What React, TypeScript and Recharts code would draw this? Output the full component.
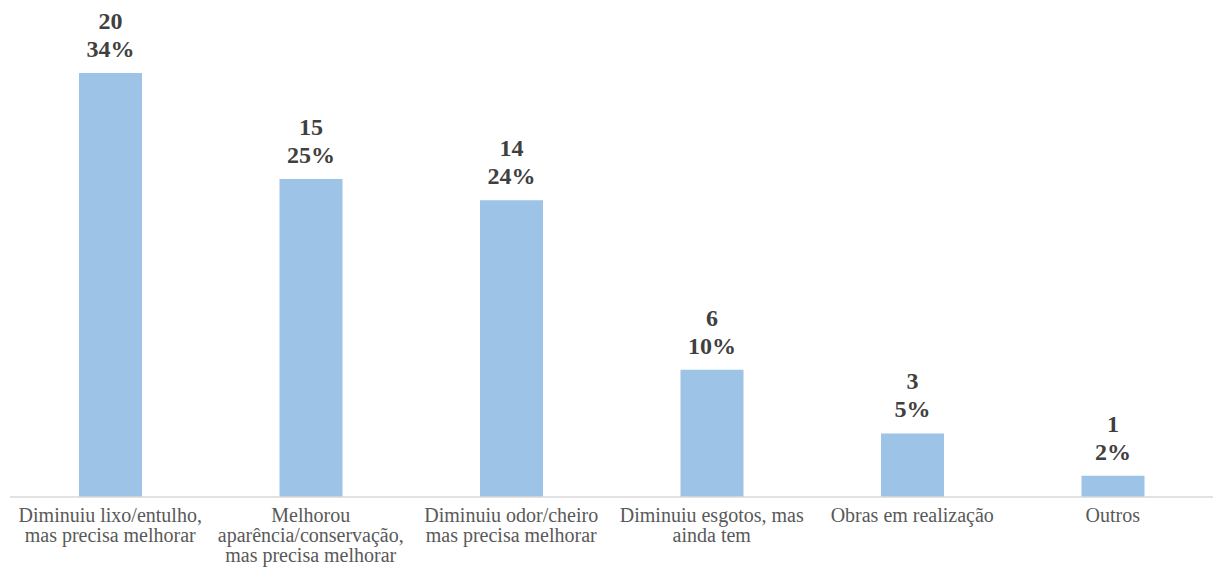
import React from 'react';
import { BarChart, Bar, XAxis, YAxis, LabelList } from 'recharts';

// Categories (line breaks as in the original labels)
const categories = [
    'Diminuiu lixo/entulho,\nmas precisa melhorar',
    'Melhorou\naparência/conservação,\nmas precisa melhorar',
    'Diminuiu odor/cheiro\nmas precisa melhorar',
    'Diminuiu esgotos, mas\nainda tem',
    'Obras em realização',
    'Outros'
];

const counts = [20, 15, 14, 6, 3, 1];
const percents = ['34%', '25%', '24%', '10%', '5%', '2%'];

const data = categories.map((name, i) => ({ name, value: counts[i], pct: percents[i] }));

const FONT = "'Liberation Serif', 'DejaVu Serif', serif";

const CategoryTick = (props: any) => {
    const { x, y, payload } = props;
    const lines = String(payload.value).split('\n');
    return (
        <text x={x} y={y} textAnchor="middle" fill="#595959" style={{ fontFamily: FONT, fontSize: 20 }}>
            {lines.map((line, i) => (
                <tspan key={i} x={x} dy={i === 0 ? 19 : 20}>{line}</tspan>
            ))}
        </text>
    );
};

const ValueLabel = (props: any) => {
    const { x, y, width, index } = props;
    const cx = x + width / 2;
    return (
        <text x={cx} y={y} textAnchor="middle" fill="#404040" style={{ fontFamily: FONT, fontSize: 24, fontWeight: 'bold' }}>
            <tspan x={cx} dy={-44}>{counts[index]}</tspan>
            <tspan x={cx} dy={28}>{percents[index]}</tspan>
        </text>
    );
};

const App: React.FC = () => {
    return (
        <div style={{ position: 'absolute', left: 0, top: 0, background: '#fff', fontFamily: FONT }}>
            <BarChart width={1216} height={584} data={data} margin={{ top: 73, right: 3, bottom: 0, left: 10 }}>
                <YAxis hide domain={[0, 20]} />
                <XAxis
                    dataKey="name"
                    interval={0}
                    height={87}
                    tickLine={false}
                    axisLine={{ stroke: '#d9d9d9', strokeWidth: 1.5 }}
                    tick={<CategoryTick />}
                    tickMargin={0}
                />
                <Bar dataKey="value" fill="#9dc3e6" barSize={63} isAnimationActive={false}>
                    <LabelList dataKey="value" content={<ValueLabel />} />
                </Bar>
            </BarChart>
        </div>
    );
};

export default App;
